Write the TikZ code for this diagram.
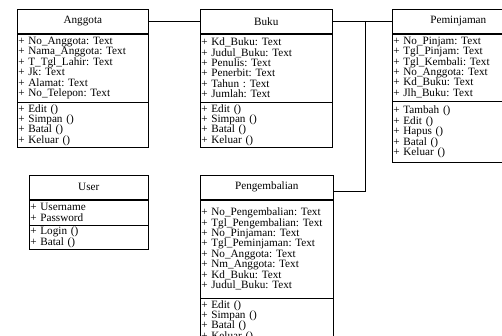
\documentclass[tikz,border=0pt]{standalone}
\usepackage{fontspec}
\setmainfont{Liberation Serif}
\frenchspacing
\usetikzlibrary{positioning}
\tikzset{
    every node/.style={draw, inner ysep=0pt, inner xsep=1pt,
    	font=\fontsize{11.2}{10.4}\selectfont},
    classhead/.style={minimum height=24pt, align=center},
    classpart/.style 2 args={align=left, text width=#1, minimum height=#2}
}

\begin{document}
\begin{tikzpicture}[x=1pt, y=-1pt, line width=.6pt]
  \useasboundingbox (0,0) rectangle (502,336);
  \clip (0,0) rectangle (502,336);

  \node (ag0) [classhead, minimum width=131pt, anchor=north west] at (17,9) {Anggota};
  \node (ag1) [classpart={129pt}{68pt}, below=0pt of ag0] {+ No\_Anggota: Text\\+ Nama\_Anggota: Text\\+ T\_Tgl\_Lahir: Text\\+ Jk: Text\\+ Alamat: Text\\+ No\_Telepon: Text};
  \node (ag2) [classpart={129pt}{45pt}, below=0pt of ag1] {+ Edit ()\\+ Simpan ()\\+ Batal ()\\+ Keluar ()};

  \node (bk0) [classhead, minimum width=132pt, anchor=north west] at (200,9) {Buku};
  \node (bk1) [classpart={130pt}{68pt}, below=0pt of bk0] {+ Kd\_Buku: Text\\+ Judul\_Buku: Text\\+ Penulis: Text\\+ Penerbit: Text\\+ Tahun : Text\\+ Jumlah: Text};
  \node (bk2) [classpart={130pt}{45pt}, below=0pt of bk1] {+ Edit ()\\+ Simpan ()\\+ Batal ()\\+ Keluar ()};

  \node (pm0) [classhead, minimum width=132pt, anchor=north west] at (392,9) {Peminjaman};
  \node (pm1) [classpart={130pt}{67pt}, below=0pt of pm0] {+ No\_Pinjam: Text\\+ Tgl\_Pinjam: Text\\+ Tgl\_Kembali: Text\\+ No\_Anggota: Text\\+ Kd\_Buku: Text\\+ Jlh\_Buku: Text};
  \node (pm2) [classpart={130pt}{61pt}, below=0pt of pm1] {+ Tambah ()\\+ Edit ()\\+ Hapus ()\\+ Batal ()\\+ Keluar ()};

  \node (us0) [classhead, minimum width=119pt, anchor=north west] at (29,175) {User};
  \node (us1) [classpart={117pt}{25pt}, below=0pt of us0] {+ Username\\+ Password};
  \node (us2) [classpart={117pt}{24pt}, below=0pt of us1] {+ Login ()\\+ Batal ()};

  \node (kb0) [classhead, minimum width=133pt, anchor=north west] at (200,175) {Pengembalian};
  \node (kb1) [classpart={131pt}{98pt}, below=0pt of kb0] {+ No\_Pengembalian: Text\\+ Tgl\_Pengembalian: Text\\+ No\_Pinjaman: Text\\+ Tgl\_Peminjaman: Text\\+ No\_Anggota: Text\\+ Nm\_Anggota: Text\\+ Kd\_Buku: Text\\+ Judul\_Buku: Text};
  \node (kb2) [classpart={131pt}{45pt}, below=0pt of kb1] {+ Edit ()\\+ Simpan ()\\+ Batal ()\\+ Keluar ()};

  \coordinate (jn) at (365,21);

  \draw (ag0.east) -- (bk0.west);
  \draw (bk0.east) -- (pm0.west);
  \draw (jn) |- ([yshift=-4pt]kb0.east);
\end{tikzpicture}
\end{document}
